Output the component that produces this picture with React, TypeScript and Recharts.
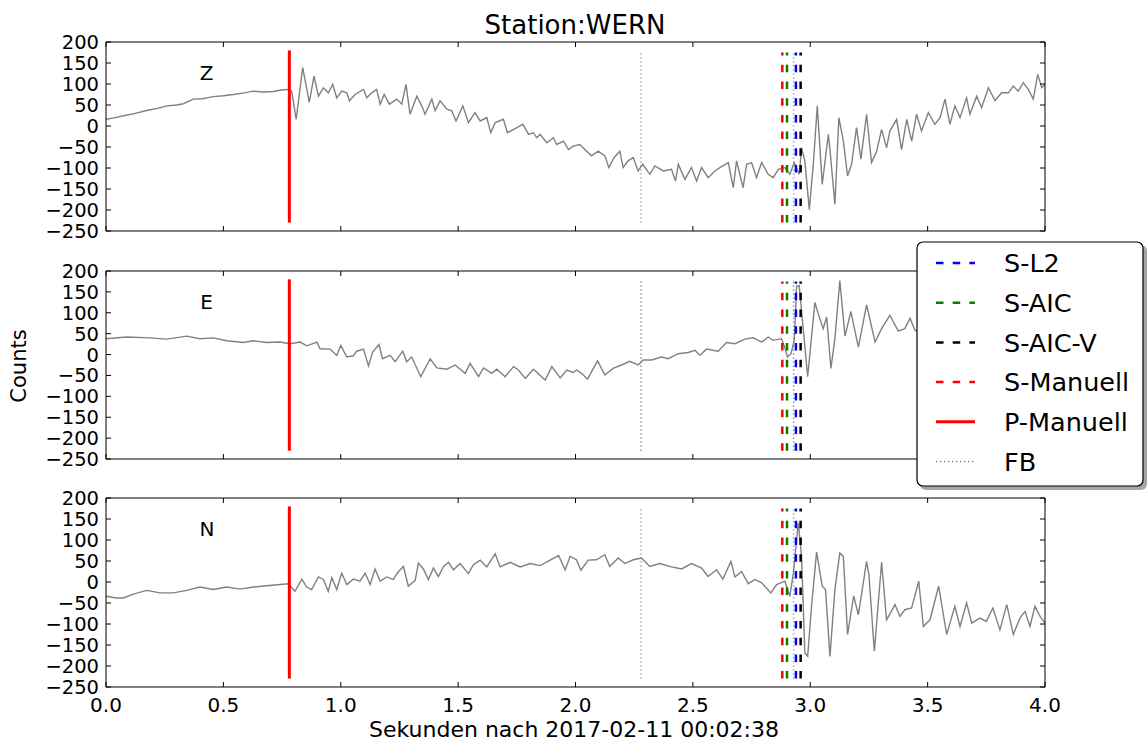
import React from "react";
import { LineChart, Line, XAxis, YAxis, ReferenceLine } from "recharts";

const FONT = "'DejaVu Sans', sans-serif";

const X_TICKS = [0, 0.5, 1, 1.5, 2, 2.5, 3, 3.5, 4];
const Y_TICKS = [-250, -200, -150, -100, -50, 0, 50, 100, 150, 200];

// [seconds, counts]
const TRACE_Z: [number, number][] = [
  [0, 16], [0.04, 20], [0.08, 25], [0.116, 29], [0.173, 37], [0.22, 42], [0.259, 48], [0.3, 50],
  [0.33, 53], [0.372, 64], [0.41, 65], [0.457, 70], [0.5, 72], [0.543, 75], [0.59, 79], [0.628, 83],
  [0.67, 81], [0.713, 82], [0.74, 85], [0.77, 87], [0.791, 83], [0.81, 16], [0.838, 139], [0.866, 56],
  [0.886, 119], [0.905, 71], [0.926, 91], [0.947, 79], [0.966, 99], [0.983, 67], [1.004, 83], [1.026, 79],
  [1.037, 60], [1.061, 75], [1.097, 87], [1.111, 67], [1.132, 79], [1.153, 87], [1.168, 52], [1.185, 75],
  [1.207, 52], [1.239, 64], [1.26, 52], [1.278, 99], [1.295, 28], [1.324, 71], [1.345, 48], [1.359, 28],
  [1.388, 64], [1.402, 36], [1.423, 60], [1.452, 40], [1.473, 36], [1.491, 12], [1.52, 48], [1.544, 8],
  [1.572, 32], [1.594, 12], [1.622, 20], [1.639, -16], [1.658, 8], [1.693, 16], [1.71, -16], [1.75, -4],
  [1.776, 4], [1.8, -20], [1.821, -16], [1.835, -28], [1.849, -20], [1.878, -40], [1.906, -28], [1.92, -44],
  [1.949, -36], [1.97, -56], [1.99, -48], [2.018, -44], [2.04, -56], [2.068, -71], [2.097, -60], [2.125, -71],
  [2.142, -99], [2.165, -75], [2.189, -60], [2.203, -99], [2.224, -83], [2.246, -75], [2.267, -107], [2.286, -91],
  [2.317, -115], [2.338, -95], [2.374, -107], [2.409, -103], [2.426, -131], [2.438, -91], [2.466, -127], [2.494, -99],
  [2.516, -131], [2.537, -99], [2.565, -123], [2.594, -107], [2.615, -99], [2.651, -87], [2.672, -147], [2.686, -83],
  [2.714, -147], [2.729, -91], [2.75, -87], [2.771, -123], [2.793, -87], [2.821, -115], [2.842, -123], [2.864, -103],
  [2.892, -99], [2.913, -115], [2.932, -87], [2.953, -115], [2.963, -52], [2.977, -83], [2.996, -199], [3.013, -91],
  [3.03, 48], [3.051, -139], [3.077, -20], [3.084, -56], [3.105, -187], [3.122, 20], [3.141, -36], [3.159, -119],
  [3.176, -91], [3.197, -4], [3.216, -79], [3.24, 28], [3.261, -87], [3.283, -60], [3.304, -8], [3.325, -52],
  [3.339, -12], [3.368, 16], [3.389, -56], [3.411, 16], [3.432, -36], [3.453, 28], [3.474, -12], [3.503, 32],
  [3.531, 4], [3.553, 20], [3.574, 64], [3.595, 4], [3.616, 48], [3.638, 20], [3.666, 67], [3.68, 28],
  [3.709, 71], [3.73, 44], [3.759, 91], [3.787, 60], [3.815, 79], [3.844, 79], [3.865, 95], [3.886, 83],
  [3.908, 103], [3.929, 87], [3.95, 64], [3.969, 123], [3.986, 91], [4, 99],
];

const TRACE_E: [number, number][] = [
  [0, 38], [0.088, 42], [0.188, 40], [0.259, 37], [0.344, 44], [0.4, 38], [0.457, 40], [0.514, 33],
  [0.585, 29], [0.628, 33], [0.685, 29], [0.741, 30], [0.784, 26], [0.827, 30], [0.855, 21], [0.898, 30],
  [0.912, 14], [0.955, 13], [0.983, -2], [1.0, 22], [1.026, -6], [1.054, -3], [1.068, 8], [1.097, 13],
  [1.118, -27], [1.136, 6], [1.163, 24], [1.178, -10], [1.21, -2], [1.232, -17], [1.264, 8], [1.281, -17],
  [1.302, -6], [1.341, -53], [1.381, -10], [1.409, -32], [1.452, -35], [1.487, -25], [1.53, -45], [1.551, -21],
  [1.587, -53], [1.608, -32], [1.643, -45], [1.665, -35], [1.7, -53], [1.736, -29], [1.757, -37], [1.786, -57],
  [1.821, -35], [1.871, -61], [1.899, -29], [1.935, -56], [1.963, -37], [1.991, -43], [2.004, -37], [2.026, -45],
  [2.051, -59], [2.094, -15], [2.125, -49], [2.16, -33], [2.196, -25], [2.231, -16], [2.267, -25], [2.288, -13],
  [2.324, -13], [2.366, -6], [2.395, -10], [2.438, 2], [2.48, 5], [2.509, 10], [2.53, -2], [2.558, 13],
  [2.608, 8], [2.643, 29], [2.679, 26], [2.722, 37], [2.757, 40], [2.793, 30], [2.821, 42], [2.842, 34],
  [2.878, 38], [2.892, 16], [2.903, -6], [2.918, 2], [2.932, 34], [2.942, 164], [2.953, 165], [2.97, 62],
  [2.989, -53], [3.006, 46], [3.02, 125], [3.034, 98], [3.055, 62], [3.07, 90], [3.088, -33], [3.105, 38],
  [3.126, 177], [3.148, 44], [3.173, 103], [3.205, 18], [3.24, 119], [3.276, 30], [3.304, 62], [3.339, 94],
  [3.375, 56], [3.403, 62], [3.425, 87], [3.446, 58], [3.47, 50],
];

const TRACE_N: [number, number][] = [
  [0, -34], [0.045, -38], [0.074, -38], [0.116, -29], [0.173, -20], [0.23, -26], [0.287, -26], [0.344, -20],
  [0.4, -12], [0.457, -18], [0.514, -12], [0.571, -17], [0.628, -12], [0.685, -9], [0.741, -6], [0.777, -4],
  [0.805, -22], [0.834, 7], [0.855, -12], [0.876, -18], [0.905, 12], [0.926, 6], [0.947, -22], [0.962, 10],
  [0.983, -18], [1.004, 21], [1.026, -6], [1.054, 7], [1.082, 2], [1.104, 21], [1.125, -6], [1.146, 31],
  [1.168, 2], [1.196, 12], [1.224, 6], [1.246, 25], [1.267, 37], [1.288, -10], [1.317, 4], [1.331, 45],
  [1.352, 31], [1.373, 6], [1.395, 33], [1.416, 13], [1.438, 37], [1.459, 47], [1.48, 29], [1.508, 44],
  [1.544, 20], [1.565, 41], [1.594, 52], [1.622, 36], [1.658, 67], [1.679, 36], [1.722, 47], [1.764, 36],
  [1.807, 44], [1.849, 39], [1.892, 52], [1.928, 63], [1.956, 29], [1.977, 61], [2.004, 53], [2.023, 28],
  [2.054, 52], [2.089, 53], [2.125, 65], [2.146, 37], [2.182, 57], [2.21, 44], [2.246, 53], [2.281, 57],
  [2.317, 37], [2.359, 44], [2.409, 36], [2.452, 31], [2.494, 44], [2.537, 33], [2.565, 13], [2.601, 29],
  [2.628, 7], [2.662, 49], [2.679, 12], [2.707, 25], [2.736, -4], [2.764, 6], [2.793, -2], [2.832, -26],
  [2.857, -6], [2.892, 2], [2.913, -34], [2.928, 21], [2.949, 141], [2.963, 61], [2.977, -169], [2.989, -177],
  [3.006, -54], [3.027, 71], [3.051, -10], [3.065, -18], [3.084, -177], [3.105, -18], [3.126, 69], [3.141, 61],
  [3.159, -125], [3.185, -33], [3.205, -78], [3.24, 49], [3.25, 17], [3.273, -165], [3.304, 47], [3.325, -90],
  [3.361, -54], [3.382, -82], [3.403, -66], [3.432, -62], [3.462, 2], [3.482, -106], [3.51, -90], [3.547, -10],
  [3.581, -125], [3.616, -58], [3.638, -106], [3.666, -50], [3.688, -98], [3.723, -86], [3.75, -94], [3.778, -62],
  [3.808, -114], [3.837, -54], [3.865, -125], [3.893, -86], [3.915, -70], [3.936, -106], [3.957, -58], [3.979, -82],
  [4, -98],
];

// picks (seconds)
const P_MANUELL = 0.781;
const FB_PICKS = [2.279, 2.929];
const S_PICKS = [
  { name: "S-Manuell", t: 2.881, color: "#ff0000" },
  { name: "S-AIC", t: 2.901, color: "#008000" },
  { name: "S-L2", t: 2.939, color: "#0000ff" },
  { name: "S-AIC-V", t: 2.959, color: "#000000" },
];

const LEGEND_ITEMS = [
  { name: "S-L2", color: "#0000ff", dash: "7.5 9.2", width: 2.5 },
  { name: "S-AIC", color: "#008000", dash: "7.5 9.2", width: 2.5 },
  { name: "S-AIC-V", color: "#000000", dash: "7.5 9.2", width: 2.5 },
  { name: "S-Manuell", color: "#ff0000", dash: "7.5 9.2", width: 2.5 },
  { name: "P-Manuell", color: "#ff0000", dash: undefined, width: 3 },
  { name: "FB", color: "#808080", dash: "1.2 2.8", width: 1.5 },
];

const TICK_LEN = 5;
const PAD = 20; // room above each plot for the top tick label

const fmtY = (v: number) => (v < 0 ? `\u2212${Math.abs(v)}` : `${v}`);

function LeftTick(props: any) {
  const { x, y, payload } = props;
  return (
    <g>
      <line x1={x} x2={x + TICK_LEN} y1={y} y2={y} stroke="#000" />
      <text x={x - 7} y={y} dy="0.36em" textAnchor="end" fontSize={19.5} fontFamily={FONT} fill="#000">
        {fmtY(payload.value)}
      </text>
    </g>
  );
}

function RightTick(props: any) {
  const { x, y } = props;
  return <line x1={x} x2={x - TICK_LEN} y1={y} y2={y} stroke="#000" />;
}

function TopTick(props: any) {
  const { x, y } = props;
  return <line x1={x} x2={x} y1={y} y2={y + TICK_LEN} stroke="#000" />;
}

function BottomTick(props: any) {
  const { x, y, payload, showLabel } = props;
  return (
    <g>
      <line x1={x} x2={x} y1={y} y2={y - TICK_LEN} stroke="#000" />
      {showLabel && (
        <text x={x} y={y + 25} textAnchor="middle" fontSize={20} fontFamily={FONT} fill="#000">
          {payload.value.toFixed(1)}
        </text>
      )}
    </g>
  );
}

interface PanelProps {
  top: number;
  plotHeight: number;
  trace: [number, number][];
  showX: boolean;
}

function Panel({ top, plotHeight, trace, showX }: PanelProps) {
  const data = trace.map(([t, v]) => ({ t, v }));
  return (
    <div style={{ position: "absolute", left: 0, top: top - PAD }}>
      <LineChart
        width={1147}
        height={plotHeight + PAD + 40}
        data={data}
        margin={{ top: PAD - 1, right: 92, bottom: 0, left: 50 }}
      >
        <XAxis
          xAxisId="b"
          dataKey="t"
          type="number"
          domain={[0, 4]}
          ticks={X_TICKS}
          interval={0}
          height={40}
          tickSize={0}
          tickMargin={0}
          axisLine={{ stroke: "#000" }}
          tickLine={false}
          tick={<BottomTick showLabel={showX} />}
          allowDataOverflow
        />
        <XAxis
          xAxisId="t"
          dataKey="t"
          orientation="top"
          type="number"
          domain={[0, 4]}
          ticks={X_TICKS}
          interval={0}
          height={1}
          tickSize={0}
          tickMargin={0}
          axisLine={{ stroke: "#000" }}
          tickLine={false}
          tick={<TopTick />}
          allowDataOverflow
        />
        <YAxis
          yAxisId="l"
          type="number"
          domain={[-250, 200]}
          ticks={Y_TICKS}
          interval={0}
          width={56}
          tickSize={0}
          tickMargin={0}
          axisLine={{ stroke: "#000" }}
          tickLine={false}
          tick={<LeftTick />}
          allowDataOverflow
        />
        <YAxis
          yAxisId="r"
          orientation="right"
          type="number"
          domain={[-250, 200]}
          ticks={Y_TICKS}
          interval={0}
          width={10}
          tickSize={0}
          tickMargin={0}
          axisLine={{ stroke: "#000" }}
          tickLine={false}
          tick={<RightTick />}
          allowDataOverflow
        />
        <Line
          xAxisId="b"
          yAxisId="l"
          type="linear"
          dataKey="v"
          stroke="#808080"
          strokeWidth={1.4}
          dot={false}
          activeDot={false}
          isAnimationActive={false}
        />
        <ReferenceLine
          xAxisId="b"
          yAxisId="l"
          segment={[{ x: P_MANUELL, y: -230 }, { x: P_MANUELL, y: 180 }]}
          stroke="#ff0000"
          strokeWidth={3}
        />
        {FB_PICKS.map((t) => (
          <ReferenceLine
            key={`fb-${t}`}
            xAxisId="b"
            yAxisId="l"
            segment={[{ x: t, y: -230 }, { x: t, y: 175 }]}
            stroke="#808080"
            strokeWidth={1.5}
            strokeDasharray="1.2 2.8"
          />
        ))}
        {S_PICKS.map((p) => (
          <ReferenceLine
            key={p.name}
            xAxisId="b"
            yAxisId="l"
            segment={[{ x: p.t, y: -230 }, { x: p.t, y: 175 }]}
            stroke={p.color}
            strokeWidth={2.5}
            strokeDasharray="7.5 9.2"
          />
        ))}
      </LineChart>
    </div>
  );
}

export default function App() {
  return (
    <div style={{ position: "absolute", left: 0, top: 0, width: 1147, height: 742, background: "#fff" }}>
      <Panel top={42} plotHeight={189} trace={TRACE_Z} showX={false} />
      <Panel top={271} plotHeight={188} trace={TRACE_E} showX={false} />
      <Panel top={498} plotHeight={189} trace={TRACE_N} showX={true} />

      <svg
        width={1147}
        height={742}
        style={{ position: "absolute", left: 0, top: 0, pointerEvents: "none" }}
        fontFamily={FONT}
      >
        <text x={575} y={34} textAnchor="middle" fontSize={26} fill="#000">
          Station:WERN
        </text>
        <text x={206.5} y={80} textAnchor="middle" fontSize={20} fill="#000">Z</text>
        <text x={206.5} y={309} textAnchor="middle" fontSize={20} fill="#000">E</text>
        <text x={207} y={536} textAnchor="middle" fontSize={20} fill="#000">N</text>
        <text transform="translate(26,366) rotate(-90)" textAnchor="middle" fontSize={21} fill="#000">
          Counts
        </text>
        <text x={574} y={737} textAnchor="middle" fontSize={22} fill="#000">
          Sekunden nach 2017-02-11 00:02:38
        </text>

        {/* legend */}
        <rect x={920} y={245} width={227} height={245} rx={6} fill="#000" opacity={0.35} />
        <rect x={917} y={242} width={226} height={244} rx={6} fill="#fff" stroke="#000" strokeWidth={1.2} />
        {LEGEND_ITEMS.map((item, i) => {
          const y = 263 + i * 39.7;
          return (
            <g key={item.name}>
              <line
                x1={936}
                x2={975}
                y1={y}
                y2={y}
                stroke={item.color}
                strokeWidth={item.width}
                strokeDasharray={item.dash}
              />
              <text x={1004} y={y} dy="0.36em" fontSize={25.5} fill="#000">
                {item.name}
              </text>
            </g>
          );
        })}
      </svg>
    </div>
  );
}
